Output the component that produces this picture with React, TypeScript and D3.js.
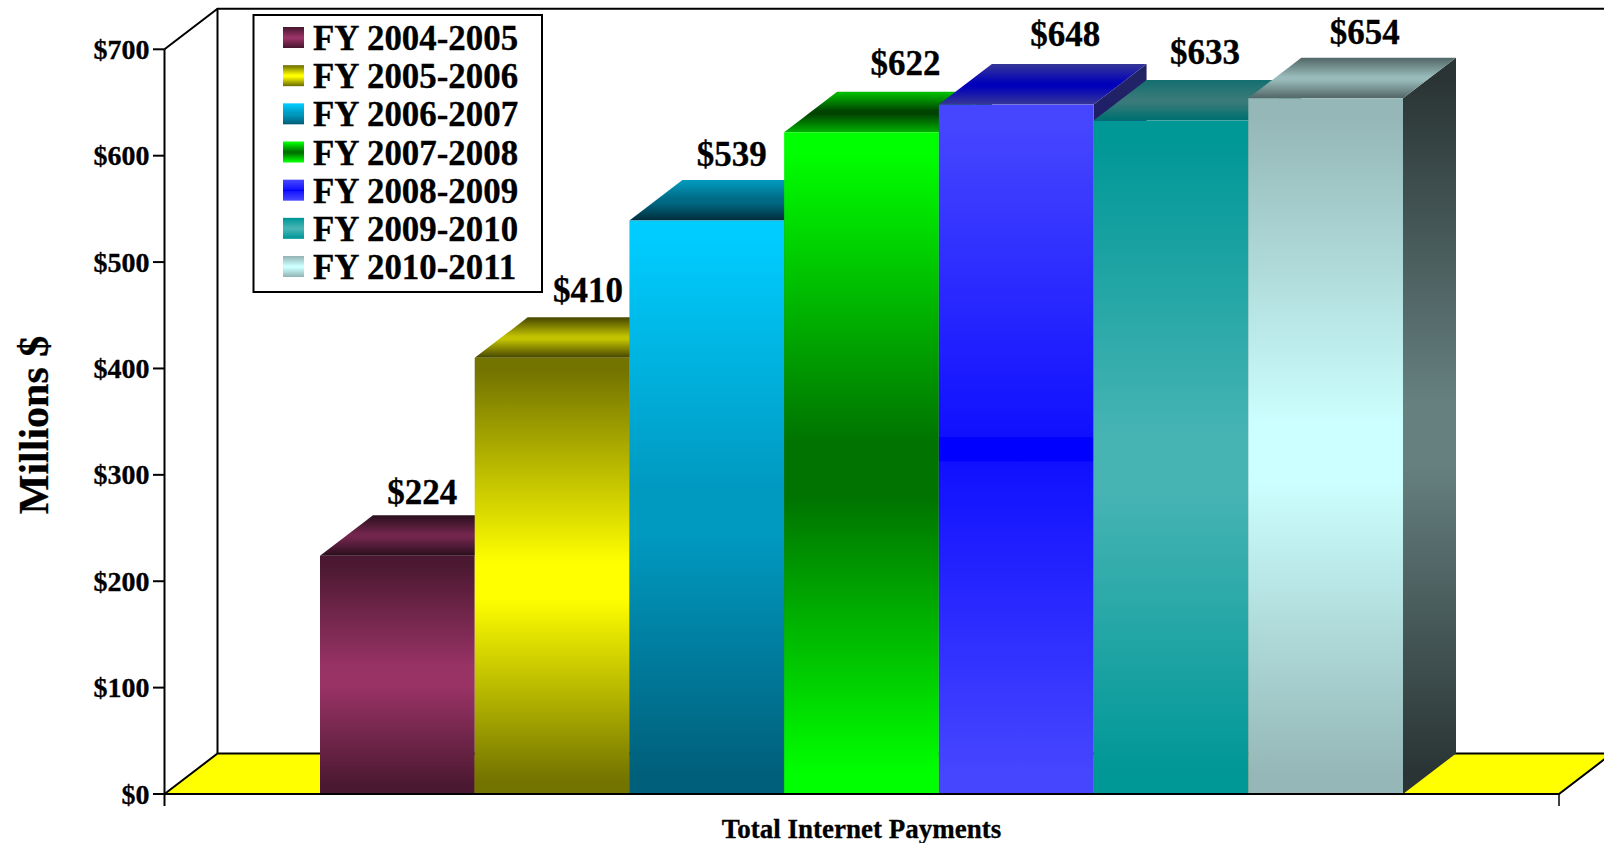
import React from "react";
import * as d3 from "d3";

const years = ["FY 2004-2005", "FY 2005-2006", "FY 2006-2007", "FY 2007-2008", "FY 2008-2009", "FY 2009-2010", "FY 2010-2011"];
const payments = [224, 410, 539, 622, 648, 633, 654];
const yTicks = [0, 100, 200, 300, 400, 500, 600, 700];

const frontStops = [
  ["#4a1830", "#993366", "#4a1830"],
  ["#737300", "#ffff00", "#737300"],
  ["#00ccff", "#0099c0", "#005f7a"],
  ["#00ff00", "#007300", "#00ff00"],
  ["#4646ff", "#0000ff", "#4646ff"],
  ["#009797", "#47b4b4", "#009797"],
  ["#95b7b7", "#ccffff", "#95b7b7"],
];
const topStops = [
  ["#2e1020", "#73264d", "#2e1020"],
  ["#4d4d00", "#c2c200", "#4d4d00"],
  ["#0099bb", "#006a85", "#003040"],
  ["#00bb00", "#004400", "#00aa00"],
  ["#333399", "#0000bb", "#333399"],
  ["#167070", "#3a7a7a", "#007070"],
  ["#566b6b", "#99bbbb", "#566b6b"],
];
const sideStops = [
  ["#25101a", "#4d1a33", "#25101a"],
  ["#3a3a00", "#808000", "#3a3a00"],
  ["#003040", "#004d66", "#003040"],
  ["#005500", "#003a00", "#005500"],
  ["#222266", "#000080", "#222266"],
  ["#004d4d", "#265c5c", "#004d4d"],
  ["#2a3434", "#668080", "#2a3434"],
];
// label nudges relative to the top-back centre of each bar
const labelNudgeX = [-1, 10, -1, 18, 23, 8, 13];
const labelNudgeY = [1, -3, -1.6, -3.8, -5.5, -3.8, -0.8];

const DX = 53;
const DY = 40.5;
const x0 = 164.5;
const x1 = 1559;
const yBase = 794;
const yScale = d3.scaleLinear().domain([0, 700]).range([yBase, 49.3]);
const xScale = d3.scaleBand<string>().domain(years).range([320, 1403]).padding(0);
const FONT = '"Liberation Serif", serif';

function Grad({ id, stops, band }: { id: string; stops: string[]; band?: boolean }) {
  return (
    <linearGradient id={id} x1="0" y1="0" x2="0" y2="1">
      <stop offset="0" stopColor={stops[0]} />
      <stop offset="0.03" stopColor={stops[0]} />
      {band ? (
        <>
          <stop offset="0.482" stopColor="#1010ff" />
          <stop offset="0.483" stopColor={stops[1]} />
          <stop offset="0.517" stopColor={stops[1]} />
          <stop offset="0.518" stopColor="#1010ff" />
        </>
      ) : (
        <>
          <stop offset="0.47" stopColor={stops[1]} />
          <stop offset="0.55" stopColor={stops[1]} />
        </>
      )}
      <stop offset="0.97" stopColor={stops[2]} />
      <stop offset="1" stopColor={stops[2]} />
    </linearGradient>
  );
}

export default function App() {
  const bw = xScale.bandwidth();
  const legendLine = d3.scaleLinear().domain([0, 6]).range([50, 279]);
  const axis = "#000";
  const top = yScale(700);
  return (
    <svg
      width={1604}
      height={843}
      style={{ position: "absolute", left: 0, top: 0, display: "block", background: "#fff" }}
      fontFamily={FONT}
      fontWeight="bold"
    >
      <defs>
        {years.map((_, i) => (
          <React.Fragment key={i}>
            <Grad id={`front${i}`} stops={frontStops[i]} band={i === 4} />
            <Grad id={`top${i}`} stops={topStops[i]} />
            <Grad id={`side${i}`} stops={sideStops[i]} />
          </React.Fragment>
        ))}
      </defs>

      {/* back wall and floor */}
      <path d={`M${x0},${top} L${x0 + DX},${top - DY} L1604,${top - DY}`} fill="none" stroke={axis} strokeWidth={2} />
      <line x1={x0 + DX} x2={x0 + DX} y1={top - DY} y2={yBase - DY} stroke={axis} strokeWidth={2} />
      <path d={`M${x0},${yBase} L${x0 + DX},${yBase - DY} L${x1 + DX},${yBase - DY} L${x1},${yBase} Z`} fill="#ffff00" stroke={axis} strokeWidth={2} />

      {/* bars */}
      {years.map((y, i) => {
        const l = xScale(y)!;
        const r = l + bw;
        const t = yScale(payments[i]);
        return (
          <g key={y}>
            <path d={`M${r},${t} L${r + DX},${t - DY} L${r + DX},${yBase - DY} L${r},${yBase} Z`} fill={`url(#side${i})`} />
            <path d={`M${l},${t} L${l + DX},${t - DY} L${r + DX},${t - DY} L${r},${t} Z`} fill={`url(#top${i})`} />
            <rect x={l} y={t} width={bw} height={yBase - t} fill={`url(#front${i})`} />
          </g>
        );
      })}

      {/* axes */}
      <line x1={x0} x2={x0} y1={top} y2={806} stroke={axis} strokeWidth={2} />
      <line x1={x0} x2={x1} y1={yBase} y2={yBase} stroke={axis} strokeWidth={2} />
      <line x1={x1} x2={x1} y1={yBase} y2={806} stroke={axis} strokeWidth={1.5} />

      <g stroke="#000" strokeWidth={0.3}>
        {yTicks.map((v) => (
          <g key={v}>
            <line x1={153} x2={x0} y1={yScale(v)} y2={yScale(v)} stroke={axis} strokeWidth={2} />
            <text x={149.5} y={yScale(v) + 9.5} textAnchor="end" fontSize={28}>{`$${v}`}</text>
          </g>
        ))}

        {/* value labels */}
        {years.map((y, i) => (
          <text
            key={y}
            x={xScale(y)! + bw / 2 + 26 + labelNudgeX[i]}
            y={yScale(payments[i]) - 40 - 13 + labelNudgeY[i]}
            textAnchor="middle"
            fontSize={35}
          >
            {`$${payments[i]}`}
          </text>
        ))}

        {/* axis titles */}
        <text transform="translate(48,425) rotate(-90)" textAnchor="middle" fontSize={42}>Millions $</text>
        <text x={861.5} y={838} textAnchor="middle" fontSize={27}>Total Internet Payments</text>
      </g>

      {/* legend */}
      <rect x={253.5} y={15} width={288.5} height={277} fill="#fff" stroke={axis} strokeWidth={2} />
      {years.map((y, i) => (
        <g key={y}>
          <rect x={283} y={legendLine(i) - 23} width={21} height={21} fill={`url(#front${i})`} />
          <text x={313} y={legendLine(i)} fontSize={34.9} stroke="#000" strokeWidth={0.3}>{y}</text>
        </g>
      ))}
    </svg>
  );
}
